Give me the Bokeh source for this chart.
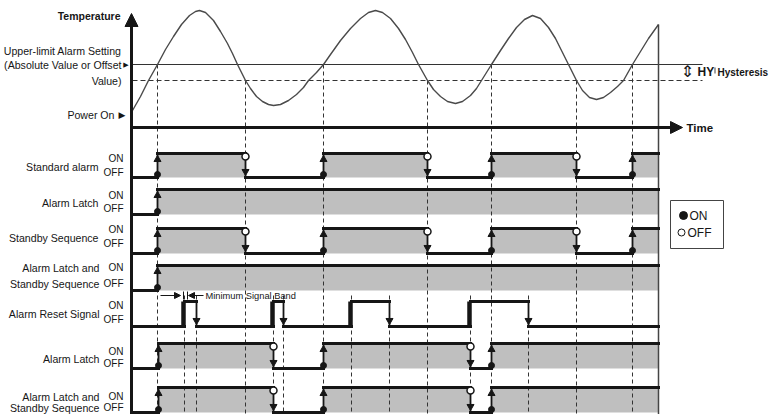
from bokeh.plotting import figure
from bokeh.models import Range1d, Arrow, NormalHead
from bokeh.core.properties import value
from bokeh.embed import file_html
from bokeh.resources import INLINE

# ---------------- data ----------------
# time in arbitrary units, 0 = power on
temp_time = [0, 8, 16, 25, 33, 41, 49, 57, 63, 67, 73, 81, 88, 95, 100, 105,
             113, 118, 124, 130, 136, 141,
             148, 156, 164, 171, 176, 184, 191, 198, 208, 218, 228, 236, 243,
             250, 258, 266, 273, 280, 286, 295, 301, 308, 315, 323,
             330, 338, 344, 349, 359, 368, 376, 384, 392, 400,
             408, 416, 423, 430, 436, 444, 450, 457, 464,
             471, 478, 485, 491, 500, 508, 516, 526]
temp_value = [88.5, 92, 96, 100, 103.75, 107, 110, 112.25, 113.25, 113.5, 113, 111, 108.25, 105.25, 102.75, 100,
              96, 94, 92, 90.75, 90, 89.75,
              90, 91, 92.5, 94.25, 96, 98, 100, 102.5, 106, 109, 111.5, 113, 113.5,
              113, 111.5, 109, 106.25, 103, 100, 96, 93.75, 92, 90.75, 90.25,
              90.75, 92.25, 94, 96, 100, 103.5, 106.5, 109.25, 111.25, 112.25,
              111.5, 109.25, 106.5, 103, 100, 96, 93.5, 91.75, 91.25,
              91.75, 93, 94.5, 96, 100, 103.25, 106.5, 110]
upper_limit = 100
hysteresis = 4
t_end = 526

alarm_on = [25, 191, 359, 500]
alarm_off = [113, 295, 444]
latch_on = [25]
latch_off = []
reset_on = [52, 141, 219, 338]
reset_off = [64, 151, 257, 396]
latch_reset_on = [26, 191, 359]
latch_reset_off = [141, 338]

row_names = [["Standard alarm"], ["Alarm Latch"], ["Standby Sequence"],
             ["Alarm Latch and", "Standby Sequence"], ["Alarm Reset Signal"],
             ["Alarm Latch"], ["Alarm Latch and", "Standby Sequence"]]
row_rises = [alarm_on, latch_on, alarm_on, latch_on, reset_on, latch_reset_on, latch_reset_on]
row_falls = [alarm_off, latch_off, alarm_off, latch_off, reset_off, latch_reset_off, latch_reset_off]

# ---------------- layout / style ----------------
ROW_ON = [153, 189, 228, 265, 301, 343, 387]
ROW_OFF = [177, 214, 253, 290, 326, 368, 412]
NAME_Y = [[166], [202], [237], [267, 283], [313], [358], [396, 407]]
ONLBL_Y = [158, 195, 229, 267, 305, 351, 396]
OFFLBL_Y = [172, 208, 243, 283, 319, 363, 407]
NAME_X = [-34, -34, -34, -33, -33, -33, -33]
T0 = -1
FONT = "Liberation Sans"
SYM = "DejaVu Sans"
INK = "#161616"
GRAY = "#bfbfbf"
NAME_SIZE = 10.6
ONOFF_SIZE = 10

p = figure(width=772, height=414, x_range=Range1d(-132, 640), y_range=Range1d(414, 0),
           x_axis_type=None, y_axis_type=None, output_backend="svg",
           toolbar_location=None, min_border=0, outline_line_color=None)
p.extra_y_ranges = {"temp": Range1d(12.5, 116)}
TEMP_BOTTOM = 12.5


def on_intervals(rises, falls):
    res = []
    for r in rises:
        later = [f for f in falls if f > r]
        res.append((r, later[0] if later else t_end))
    return res


def off_intervals(ivs):
    res, cur = [], T0
    for a, b in ivs:
        if a > cur:
            res.append((cur, a))
        cur = b
    if cur < t_end:
        res.append((cur, t_end))
    return res


def label(x, y, s, size, align="right", font=FONT, bold=False, color=INK):
    p.text(x=[x], y=[y], text=[s], text_font=value(font), text_font_size=value(f"{size}px"),
           text_font_style="bold" if bold else "normal", text_align=align,
           text_baseline="middle", text_color=color)


# ---- collect row geometry ----
gl, gr, gt, gb = [], [], [], []
hx0, hx1, hy = [], [], []
vx, vy0, vy1 = [], [], []
bx, by0, by1 = [], [], []
up_x, up_y, dot_x, dot_y, oc_x, oc_y, dn_x, dn_y = [], [], [], [], [], [], [], []
for i in range(len(row_names)):
    yon, yoff = ROW_ON[i], ROW_OFF[i]
    is_reset = row_names[i][0] == "Alarm Reset Signal"
    ivs = on_intervals(row_rises[i], row_falls[i])
    for a, b in ivs:
        if not is_reset:
            gl.append(a); gr.append(b); gt.append(yon); gb.append(yoff)
        hx0.append(a); hx1.append(b); hy.append(yon)
    for a, b in off_intervals(ivs):
        hx0.append(a); hx1.append(b); hy.append(yoff)
    for r in row_rises[i]:
        if is_reset:
            bx.append(r - 1); by0.append(yoff); by1.append(yon)
        else:
            vx.append(r); vy0.append(yoff); vy1.append(yon)
            up_x.append(r); up_y.append(yon + 6)
            dot_x.append(r); dot_y.append(yoff - 3)
    for f in row_falls[i]:
        vx.append(f); vy0.append(yon); vy1.append(yoff)
        dn_x.append(f); dn_y.append(yoff - 6)
        if not is_reset:
            oc_x.append(f); oc_y.append(yon + 3)

p.quad(left=gl, right=gr, top=gt, bottom=gb, fill_color=GRAY, line_color=None)

# ---- dashed guide lines ----
dash_x = alarm_on + alarm_off
dash_top = [upper_limit] * len(alarm_on) + [upper_limit - hysteresis] * len(alarm_off)
p.segment(x0=dash_x, y0=dash_top, x1=dash_x, y1=[TEMP_BOTTOM] * len(dash_x),
          y_range_name="temp", line_color="#333333", line_width=1, line_dash="4 3")
rdash = reset_on + reset_off
p.segment(x0=rdash, y0=[295] * len(rdash), x1=rdash, y1=[414] * len(rdash),
          line_color="#333333", line_width=1, line_dash="4 3")

# ---- temperature panel ----
p.segment(x0=[0], y0=[upper_limit], x1=[570], y1=[upper_limit], y_range_name="temp",
          line_color="#333333", line_width=1)
p.segment(x0=[0], y0=[upper_limit - hysteresis], x1=[570], y1=[upper_limit - hysteresis],
          y_range_name="temp", line_color="#333333", line_width=1, line_dash="5 3")
p.line(temp_time, temp_value, y_range_name="temp", line_color="#4a4a4a", line_width=1.4)
p.segment(x0=[t_end], y0=[temp_value[-1]], x1=[t_end], y1=[TEMP_BOTTOM], y_range_name="temp",
          line_color="#444444", line_width=1.5)

# ---- signal lines ----
p.segment(x0=hx0, y0=hy, x1=hx1, y1=hy, line_color=INK, line_width=3, line_cap="square")
p.segment(x0=vx, y0=vy0, x1=vx, y1=vy1, line_color=INK, line_width=1.8)
p.segment(x0=bx, y0=by0, x1=bx, y1=by1, line_color=INK, line_width=4.5)
p.scatter(up_x, up_y, marker="triangle", size=7, color=INK)
p.scatter(dn_x, dn_y, marker="inverted_triangle", size=7, color=INK)
p.scatter(dot_x, dot_y, marker="circle", size=6, color=INK)
p.scatter(oc_x, oc_y, marker="circle", size=7, fill_color="white", line_color=INK, line_width=1.5)

# ---- axes arrows ----
p.add_layout(Arrow(x_start=T0, y_start=414, x_end=T0, y_end=13, line_width=3, line_color=INK,
                   end=NormalHead(size=13, fill_color=INK, line_color=INK)))
p.add_layout(Arrow(x_start=T0, y_start=127, x_end=550, y_end=127, line_width=3, line_color=INK,
                   end=NormalHead(size=12, fill_color=INK, line_color=INK)))
label(554, 127, "Time", 11.5, align="left", bold=True)

# ---- minimum signal band annotation ----
p.add_layout(Arrow(x_start=28, y_start=295, x_end=48, y_end=295, line_width=1, line_color=INK,
                   end=NormalHead(size=6, fill_color=INK, line_color=INK)))
p.add_layout(Arrow(x_start=71, y_start=295, x_end=56, y_end=295, line_width=1, line_color=INK,
                   end=NormalHead(size=6, fill_color=INK, line_color=INK)))
p.segment(x0=[51, 55], y0=[291, 291], x1=[51, 55], y1=[299, 299], line_color=INK, line_width=1)
label(73, 295, "Minimum Signal Band", 9.3, align="left")

# ---- left texts ----
label(-12, 15, "Temperature", 10.5, bold=True)
label(-11, 50, "Upper-limit Alarm Setting", NAME_SIZE)
label(-11, 64, "(Absolute Value or Offset", NAME_SIZE)
label(-6.5, 64, "\u25b6", 7, align="center", font=SYM)
label(-11, 80, "Value)", NAME_SIZE)
label(-18, 114, "Power On", NAME_SIZE)
label(-10.5, 114, "\u25b6", 9, align="center", font=SYM)

for i in range(len(row_names)):
    for s, yy in zip(row_names[i], NAME_Y[i]):
        label(NAME_X[i], yy, s, NAME_SIZE)
    label(-9, ONLBL_Y[i], "ON", ONOFF_SIZE)
    label(-9, OFFLBL_Y[i], "OFF", ONOFF_SIZE)

# ---- hysteresis label ----
label(555, 71, "\u21d5", 16, align="center", font=SYM)
label(565, 71, "HY", 12, align="left", bold=True)
p.segment(x0=[582.5], y0=[67], x1=[582.5], y1=[73], line_color=INK, line_width=0.8)
label(585, 72, "Hysteresis", 10, align="left", bold=True)

# ---- ON/OFF legend ----
p.quad(left=[538], right=[591], top=[200], bottom=[248], fill_color="white",
       line_color="#444444", line_width=1)
p.scatter([551], [215], marker="circle", size=8, color=INK)
p.scatter([549], [232], marker="circle", size=7, fill_color="white", line_color=INK, line_width=1)
label(557, 215, "ON", 12, align="left")
label(555, 232, "OFF", 12, align="left")

open("out.html", "w").write(file_html(p, INLINE))
